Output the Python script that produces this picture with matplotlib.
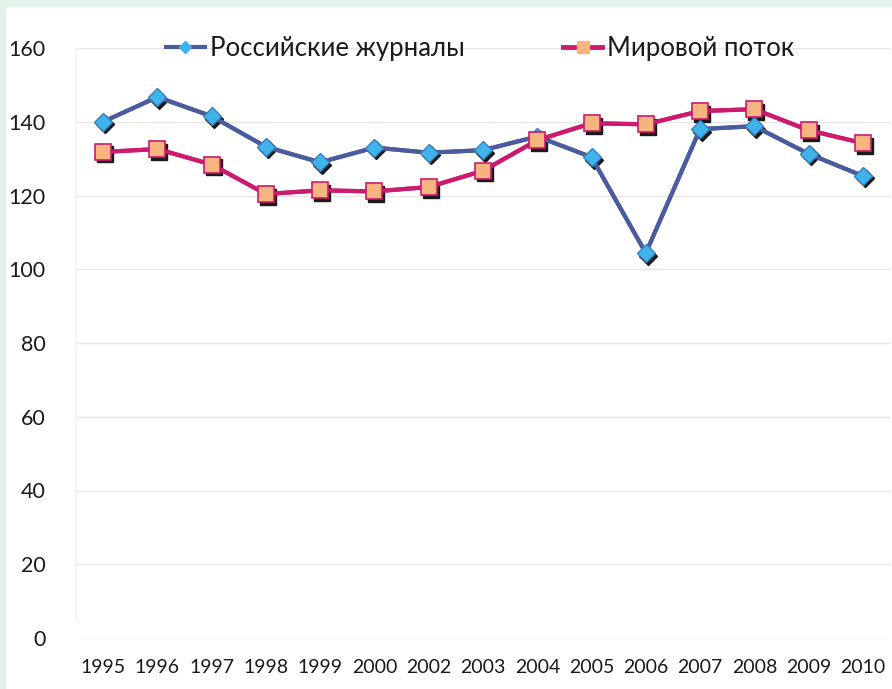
import matplotlib
matplotlib.use("Agg")
import matplotlib.pyplot as plt
import matplotlib.transforms as mtransforms
from matplotlib.lines import Line2D
import numpy as np

years = ["1995", "1996", "1997", "1998", "1999", "2000", "2002", "2003",
         "2004", "2005", "2006", "2007", "2008", "2009", "2010"]
russian = [140, 146.7, 141.5, 133.2, 129, 133, 131.6, 132.3,
           136, 130.4, 104.4, 138, 138.8, 131.3, 125.3]
world = [131.8, 132.6, 128.4, 120.4, 121.4, 121.1, 122.3, 126.7,
         135, 139.6, 139.3, 142.9, 143.4, 137.7, 134.2]
yticks = [0, 20, 40, 60, 80, 100, 120, 140, 160]

plt.rcParams['font.family'] = ['Lato', 'DejaVu Sans']

fig = plt.figure(figsize=(8.92, 6.89), dpi=100)
fig.patch.set_facecolor('white')
# green frame on left and top
fig.patches.append(plt.Rectangle((0, 0), 6/892, 1, transform=fig.transFigure,
                                 facecolor='#e3f2e8', edgecolor='none', zorder=0))
fig.patches.append(plt.Rectangle((0, 1-7/689), 1, 7/689, transform=fig.transFigure,
                                 facecolor='#e3f2e8', edgecolor='none', zorder=0))

ax = fig.add_axes([76/892, 51/689, 814/892, 590/689])
ax.set_facecolor('none')
x = np.arange(len(years))

blue_line = '#4a5c9e'
blue_fill = '#3fb4ea'
pink_line = '#cc1a6e'
pink_fill = '#f6b57e'
txt = '#1a1a1a'

shadow = mtransforms.offset_copy(ax.transData, fig=fig, x=2, y=-2.5, units='dots')

ax.plot(x, russian, color=blue_line, lw=3, zorder=3)
ax.plot(x, world, color=pink_line, lw=3, zorder=3)
ax.plot(x, russian, ls='none', marker='D', ms=9, color='#1a1a1a', transform=shadow, zorder=4)
ax.plot(x, world, ls='none', marker='s', ms=12, color='#1a1a1a', transform=shadow, zorder=4)
ax.plot(x, russian, color=blue_line, lw=3, marker='D', ms=9,
        markerfacecolor=blue_fill, markeredgecolor='#3a7fc0', markeredgewidth=1, zorder=5)
ax.plot(x, world, color=pink_line, lw=3, marker='s', ms=12,
        markerfacecolor=pink_fill, markeredgecolor=pink_line, markeredgewidth=1.2, zorder=5)

h1 = Line2D([], [], color=blue_line, lw=3, marker='D', ms=6,
            markerfacecolor=blue_fill, markeredgecolor=blue_fill, label='Российские журналы')
h2 = Line2D([], [], color=pink_line, lw=3.5, marker='s', ms=8,
            markerfacecolor=pink_fill, markeredgecolor=pink_fill, label='Мировой поток')

ax.set_xlim(-0.5, 14.5)
ax.set_ylim(0, 160)
ax.set_yticks(yticks)
ax.set_yticklabels([str(v) for v in yticks], fontsize=15.5, color=txt)
ax.set_xticks(x)
ax.set_xticklabels(years, fontsize=14, color=txt)
ax.tick_params(axis='both', length=0)
ax.tick_params(axis='y', pad=22)
ax.tick_params(axis='x', pad=15)
for yv in yticks:
    ax.axhline(yv, color='#e6e6e6', lw=1, zorder=1)
for s in ['top', 'right', 'bottom']:
    ax.spines[s].set_visible(False)
ax.spines['left'].set_color('#eeeeee')
ax.spines['left'].set_bounds(5, 160)

leg = ax.legend(handles=[h1, h2], loc='upper left', bbox_to_anchor=(67/814, 1.06),
                ncol=2, frameon=False, prop={'size': 18.5},
                handlelength=1.5, columnspacing=3.85, handletextpad=0.2)
for t in leg.get_texts():
    t.set_color(txt)

fig.savefig('out.png', dpi=100)
